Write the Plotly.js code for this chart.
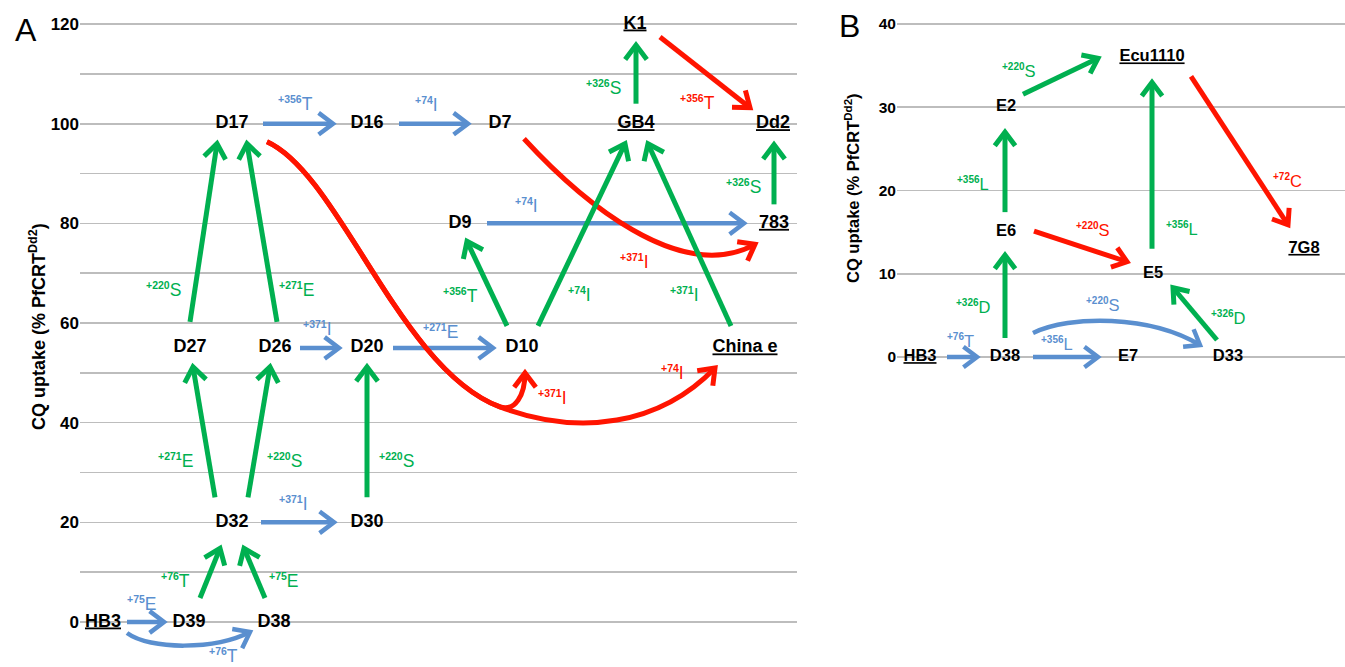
<!DOCTYPE html>
<html><head><meta charset="utf-8">
<script src="https://cdn.plot.ly/plotly-3.0.1.min.js"></script>
<style>html,body{margin:0;padding:0;background:#fff;}#chart{width:1345px;height:667px;}</style>
</head><body><div id="chart"></div>
<script>
// ---------- Panel A data ----------
const nodesA = ['HB3','D39','D38','D32','D30','D27','D26','D20','D10','China e','D9','783','D17','D16','D7','GB4','Dd2','K1'];
const cqA    = [0,0,0,20,20,55,55,55,55,55,80,80,100,100,100,100,100,120];
const colA   = [103,189,274,232,367,190,275,367,522,745,460,774,232,367,500,636,773,635];
const refA   = ['HB3','China e','783','GB4','Dd2','K1'];
const ticksA = [0,20,40,60,80,100,120];
const minorA = [10,30,50,70,90,110];

// ---------- Panel B data ----------
const nodesB = ['HB3','D38','E7','D33','E6','E2','E5','Ecu1110','7G8'];
const cqB    = [0,0,0,0,15,30,10,36,13];
const colB   = [920,1005,1128,1228,1006,1006,1153,1152,1304];
const refB   = ['HB3','Ecu1110','7G8'];
const ticksB = [0,10,20,30,40];

// mutation steps: from, to, position, residue, colour key
const stepFromA = ['HB3','HB3','D39','D38','D32','D32','D32','D30','D27','D26','D26','D20','D10','D10','China e','D17','D16','D9','783','GB4','K1','D7','D17','D17'];
const stepToA   = ['D39','D38','D32','D32','D30','D27','D26','D20','D17','D17','D20','D10','D9','GB4','GB4','D16','D7','783','Dd2','K1','Dd2','783','D10','China e'];
const stepPosA  = ['+75','+76','+76','+75','+371','+271','+220','+220','+220','+271','+371','+271','+356','+74','+371','+356','+74','+74','+326','+326','+356','+371','+371','+74'];
const stepAaA   = ['E','T','T','E','I','E','S','S','S','E','I','E','T','I','I','T','I','I','S','S','T','I','I','I'];
const stepColA  = ['b','b','g','g','b','g','g','g','g','g','b','b','g','g','g','b','b','b','g','g','r','r','r','r'];

const stepFromB = ['HB3','D38','D38','D38','E6','E2','E6','E5','D33','Ecu1110'];
const stepToB   = ['D38','E7','D33','E6','E2','Ecu1110','E5','Ecu1110','E5','7G8'];
const stepPosB  = ['+76','+356','+220','+326','+356','+220','+220','+356','+326','+72'];
const stepAaB   = ['T','L','S','D','L','S','S','L','D','C'];
const stepColB  = ['b','b','b','g','g','g','r','g','g','r'];

// ---------- drawing geometry (pixel offsets, not data) ----------
const geomA = [
 {t:[24,0],h:[-25,0],l:[-4,-19]},
 {t:[24,11],h:[-24,10],l:[35,23],c:[[['t',23,17],['h',-35,18],['h',0,0]]]},
 {t:[11,-24],h:[-12,26],l:[-35,7]},
 {t:[-9,-24],h:[12,26],l:[29,7]},
 {t:[29,0],h:[-33,0],l:[-4,-19]},
 {t:[-17,-25],h:[3,19],l:[-29,28]},
 {t:[16,-25],h:[-5,19],l:[25,28]},
 {t:[0,-25],h:[0,19],l:[29,28]},
 {t:[0,-26],h:[-15,20],l:[-40,57]},
 {t:[2,-26],h:[15,20],l:[34,57]},
 {t:[25,0],h:[-28,0],l:[-2,-19]},
 {t:[26,0],h:[-29,0],l:[-3,-16]},
 {t:[-15,-22],h:[7,18],l:[-27,12]},
 {t:[16,-22],h:[-11,20],l:[-2,60]},
 {t:[-14,-22],h:[12,20],l:[-5,60]},
 {t:[31,0],h:[-34,0],l:[-3,-20]},
 {t:[32,0],h:[-32,0],l:[-7,-19]},
 {t:[27,0],h:[-30,0],l:[-89,-18]},
 {t:[0,-19],h:[1,21],l:[-31,12]},
 {t:[0,-20],h:[1,21],l:[-33,13]},
 {t:[25,13],h:[-23,-16],l:[-8,30]},
 {t:[24,15],h:[-19,21],l:[-5,70],c:[[['t',56,61],['h',-75,41],['h',0,0]]]},
 {t:[35,18],h:[3,25],l:[156,140],c:[[['t',73,33],['D10',-122,22],['D10',-22,59]],[['D10',-7,64],['h',0,22],['h',0,0]]]},
 {t:[35,18],h:[-30,20],l:[181,118],c:[[['t',73,33],['D10',-122,22],['D10',-22,59]],[['D10',58,89],['h',-55,57],['h',0,0]]]}
];
const geomB = [
 {t:[27,0],h:[-28,0],l:[-2,-17]},
 {t:[28,0],h:[-30,0],l:[-9,-14]},
 {t:[28,-24],h:[-28,-12],l:[-14,-35],c:[[['t',37,-18],['h',-50,-30],['h',0,0]]]},
 {t:[0,-19],h:[-1,23],l:[-32,10]},
 {t:[-1,-20],h:[-1,25],l:[-32,11]},
 {t:[17,-13],h:[-54,1],l:[-42,-6]},
 {t:[28,-1],h:[-26,-12],l:[12,-17]},
 {t:[-1,-25],h:[0,25],l:[30,63]},
 {t:[-11,-17],h:[20,14],l:[33,4]},
 {t:[39,19],h:[-16,-24],l:[48,30]}
];

const COL = {g:'#00B050', b:'#5A8FCF', r:'#FF1400'};
const W = 1345, H = 667;
const FONT = 'Liberation Sans, Arial, Helvetica, sans-serif';
const PA = {x0:80, x1:797, y0px:622, ppu:4.983, xa:'x', ya:'y', node:18, lab:17.5, sup:10.5, arm:18};
const PB = {x0:897, x1:1345, y0px:357, ppu:8.325, xa:'x2', ya:'y2', node:16.5, lab:16.5, sup:10, arm:17};

function val(P, py){ return (P.y0px - py)/P.ppu; }
function pt(P, p){ return p[0].toFixed(2)+','+val(P,p[1]).toFixed(3); }

const shapes = [], annotations = [], traces = [];

function buildPanel(P, nodes, cq, col, refs, from, to, pos, aa, ck, geom){
  const pix = {};
  nodes.forEach((n,i)=>{ pix[n] = [col[i], P.y0px - cq[i]*P.ppu]; });
  traces.push({
    type:'scatter', mode:'text', x:col, y:cq, xaxis:P.xa, yaxis:P.ya,
    text: nodes.map(n => refs.includes(n) ? '<b><u>'+n+'</u></b>' : '<b>'+n+'</b>'),
    textfont:{family:FONT, size:P.node, color:'#000'}, textposition:'middle center',
    hoverinfo:'skip', showlegend:false, cliponaxis:false
  });
  const order = {b:0, r:1, g:2};
  const idx = from.map((_,i)=>i).sort((a,b)=>order[ck[a]]-order[ck[b]]);
  idx.forEach(i=>{
    const g = geom[i];
    const a = pix[from[i]], b = pix[to[i]];
    const tail = [a[0]+g.t[0], a[1]+g.t[1]];
    const head = [b[0]+g.h[0], b[1]+g.h[1]];
    const ref = (q)=>{
      const base = q[0]==='t' ? tail : (q[0]==='h' ? head : pix[q[0]]);
      return [base[0]+q[1], base[1]+q[2]];
    };
    let path = 'M '+pt(P,tail);
    let prev = tail;
    if (g.c){
      g.c.forEach(seg=>{
        const c1 = ref(seg[0]), c2 = ref(seg[1]), e = ref(seg[2]);
        path += ' C '+pt(P,c1)+' '+pt(P,c2)+' '+pt(P,e);
        prev = c2;
      });
    } else {
      path += ' L '+pt(P,head);
    }
    const color = COL[ck[i]];
    const lw = ck[i]==='b' ? 4.5 : 5;
    shapes.push({type:'path', path:path, xref:P.xa, yref:P.ya, line:{color:color, width:lw}, layer:'above'});
    // chevron head
    let dx = head[0]-prev[0], dy = head[1]-prev[1];
    const L0 = Math.hypot(dx,dy); dx/=L0; dy/=L0;
    const arm = P.arm, th = 37*Math.PI/180;
    const wing = (s)=>{
      const c = Math.cos(s*th), sn = Math.sin(s*th);
      const rx = dx*c - dy*sn, ry = dx*sn + dy*c;
      return [head[0]-arm*rx, head[1]-arm*ry];
    };
    shapes.push({type:'path', path:'M '+pt(P,wing(1))+' L '+pt(P,head)+' L '+pt(P,wing(-1)),
      xref:P.xa, yref:P.ya, line:{color:color, width:lw}, layer:'above'});
    // label
    const mid = [(tail[0]+head[0])/2 + g.l[0], (tail[1]+head[1])/2 + g.l[1]];
    annotations.push({xref:P.xa, yref:P.ya, x:mid[0], y:val(P,mid[1]), showarrow:false,
      xanchor:'center', yanchor:'middle',
      text:'<sup><span style="font-size:'+P.sup+'px"><b>'+pos[i]+'</b></span></sup>'+aa[i],
      font:{family:FONT, size:P.lab, color:color}});
  });
}

buildPanel(PA, nodesA, cqA, colA, refA, stepFromA, stepToA, stepPosA, stepAaA, stepColA, geomA);
buildPanel(PB, nodesB, cqB, colB, refB, stepFromB, stepToB, stepPosB, stepAaB, stepColB, geomB);

// panel letters & axis titles
annotations.push({xref:'paper', yref:'paper', x:26/W, y:1-30/H, text:'A', showarrow:false,
  font:{family:FONT, size:32, color:'#000'}, xanchor:'center', yanchor:'middle'});
annotations.push({xref:'paper', yref:'paper', x:849/W, y:1-26/H, text:'B', showarrow:false,
  font:{family:FONT, size:32, color:'#000'}, xanchor:'center', yanchor:'middle'});
const ytitle = '<b>CQ uptake (% PfCRT<sup>Dd2</sup>)</b>';
annotations.push({xref:'paper', yref:'paper', x:37/W, y:1-327/H, text:ytitle, textangle:-90, showarrow:false,
  font:{family:FONT, size:18, color:'#000'}, xanchor:'center', yanchor:'middle'});
annotations.push({xref:'paper', yref:'paper', x:852/W, y:1-188/H, text:ytitle, textangle:-90, showarrow:false,
  font:{family:FONT, size:16.5, color:'#000'}, xanchor:'center', yanchor:'middle'});

const GRID = '#BDBDBD';
const layout = {
  width:W, height:H, margin:{l:0,r:0,t:0,b:0}, paper_bgcolor:'#fff', plot_bgcolor:'rgba(0,0,0,0)',
  showlegend:false,
  xaxis:{domain:[PA.x0/W, PA.x1/W], range:[PA.x0, PA.x1], visible:false, fixedrange:true},
  yaxis:{domain:[0,1], anchor:'x', range:[val(PA,H), val(PA,0)], tickvals:ticksA, ticks:'',
    showgrid:true, gridcolor:GRID, gridwidth:1.6, zeroline:false, showline:false, automargin:false,
    tickfont:{family:FONT, size:17, color:'#000', weight:'bold'},
    minor:{tickvals:minorA, showgrid:true, gridcolor:GRID, gridwidth:1.6, ticks:''}},
  xaxis2:{domain:[PB.x0/W, 1], range:[PB.x0, PB.x1], visible:false, fixedrange:true, anchor:'y2'},
  yaxis2:{domain:[0,1], anchor:'x2', range:[val(PB,H), val(PB,0)], tickvals:ticksB, ticks:'',
    showgrid:true, gridcolor:GRID, gridwidth:1.6, zeroline:false, showline:false, automargin:false,
    tickfont:{family:FONT, size:15.5, color:'#000', weight:'bold'}},
  shapes:shapes, annotations:annotations
};
Plotly.newPlot('chart', traces, layout, {staticPlot:true, displayModeBar:false});
</script></body></html>
